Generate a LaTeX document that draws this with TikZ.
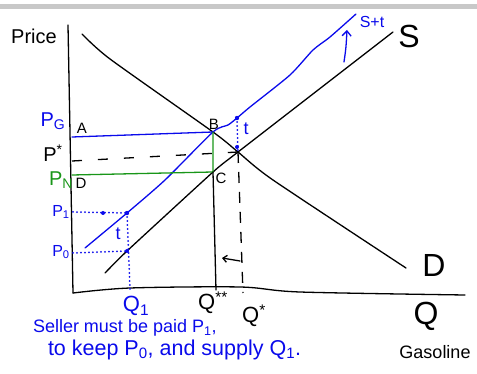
\documentclass[tikz,border=0pt]{standalone}
\usepackage{fontspec}
\setmainfont{Liberation Sans}
\usetikzlibrary{arrows.meta}
\definecolor{inkblue}{RGB}{10,10,235}
\definecolor{inkgreen}{RGB}{25,150,25}
\definecolor{bargrey}{RGB}{200,200,200}
\newcommand{\fsz}[1]{\fontsize{#1}{#1}\selectfont}
\begin{document}
\begin{tikzpicture}[x=1pt,y=-1pt,
  ink/.style={line width=1.3pt, line cap=round, line join=round},
  blk/.style={ink, black},
  bl/.style={ink, inkblue},
  gr/.style={ink, inkgreen},
  dotline/.style={inkblue, line width=2pt, line cap=round, dash pattern=on 0pt off 4pt},
  dsh/.style={line width=1.3pt, black, dash pattern=on 10pt off 16pt},
  dshv/.style={line width=1.3pt, black, dash pattern=on 11pt off 9pt},
  lbl/.style={inner sep=0pt, outer sep=0pt},
  bigdot/.style={inkblue},
]
\useasboundingbox (0,0) rectangle (477,374);
\fill[bargrey] (0,4) rectangle (477,9);

% key points
\coordinate (Ytop) at (68,25);
\coordinate (O) at (73,293);
\coordinate (Xend) at (465,295);
\coordinate (B) at (213,132);
\coordinate (E) at (238,152);
\coordinate (C) at (213,172);
\coordinate (Dt) at (82,34);
\coordinate (Db) at (406,268);
\coordinate (Sb) at (105,273);
\coordinate (Stop) at (393,32);
\coordinate (Tb) at (85,248);
\coordinate (Ttop) at (356,14);
\coordinate (Tt) at (237,118);
\coordinate (P1pt) at (127,213);
\coordinate (P0pt) at (127,251);
\coordinate (PGl) at (72,137);
\coordinate (PNl) at (72,175);
\coordinate (PSl) at (72,161);
\coordinate (P1l) at (73,212);
\coordinate (P0l) at (73,253);
\coordinate (Q1b) at (130,289);
\coordinate (Qssb) at (216,290);
\coordinate (Qsb) at (243,293);
\coordinate (Ar1) at (240,261);
\coordinate (Ar2) at (222,258);
\coordinate (Au1) at (344,62);
\coordinate (Au2) at (347,30);

% axes
\draw[blk] (Ytop) -- (O);
\draw[blk] plot[smooth, tension=0.5] coordinates {(O) (130,288) (240,287) (300,292) (Xend)};

% demand
\draw[blk] plot[smooth, tension=0.4] coordinates {(Dt) (110,59) (B) (E) (273,180) (Db)};
% supply
\draw[blk] plot[smooth, tension=0.3] coordinates {(Sb) (P0pt) (C) (E) (Stop)};
% supply + tax
\draw[bl] plot[smooth, tension=0.4] coordinates {(Tb) (P1pt) (165,180) (B) (228,125) (Tt) (250,107) (290,75) (313,50) (330,37) (Ttop)};

% price lines
\draw[bl] (PGl) -- (B);
\draw[gr] (PNl) -- (C) -- (B);
\draw[dsh] (PSl) -- (E);
\draw[dshv] (E) -- (Qsb);
\draw[blk] (C) -- (Qssb);
\draw[blk, -{Straight Barb[length=4pt,width=7pt]}] (Ar1) -- (Ar2);
\draw[bl, -{Straight Barb[length=5pt,width=9pt]}] (Au1) .. controls (346,48) .. (Au2);

% dotted tax lines
\draw[dotline] (P1l) -- (P1pt);
\draw[dotline] (P0l) -- (P0pt);
\draw[dotline] (P1pt) -- (Q1b);
\draw[dotline] (Tt) -- (E);
\fill[bigdot] (P1pt) circle (2.2pt);
\fill[bigdot] (103,213) circle (2pt);
\fill[bigdot] (P0pt) circle (2pt);
\fill[bigdot] (Tt) circle (2.2pt);
\fill[bigdot] (237,147) circle (2pt);

% labels
\node[lbl, font=\fsz{20}] (price) at (34,36) {Price};
\node[lbl, font=\fsz{32}] (slab) at (409,36) {S};
\node[lbl, font=\fsz{16}, text=inkblue] (stlab) at (372,22) {S+t};
\node[lbl, font=\fsz{32}] (dlab) at (434,265) {D};
\node[lbl, font=\fsz{32}] (qlab) at (426,316) {Q};
\node[lbl, font=\fsz{18}] (gas) at (435,352) {Gasoline};

\node[lbl, font=\fsz{20}, text=inkblue] (pg) at (53,121) {P\textsubscript{G}};
\node[lbl, font=\fsz{20}] (ps) at (53,153) {P\textsuperscript{*}};
\node[lbl, font=\fsz{20}, text=inkgreen] (pn) at (61,180) {P\textsubscript{N}};
\node[lbl, font=\fsz{16}, text=inkblue] (p1) at (61,212) {P\textsubscript{1}};
\node[lbl, font=\fsz{16}, text=inkblue] (p0) at (61,252) {P\textsubscript{0}};

\node[lbl, font=\fsz{15}] (alab) at (82,128) {A};
\node[lbl, font=\fsz{15}] (dptlab) at (81,183) {D};
\node[lbl, font=\fsz{15}] (blab) at (214,124) {B};
\node[lbl, font=\fsz{15}] (clab) at (221,178) {C};
\node[lbl, font=\fsz{18}, text=inkblue] (tlab1) at (246,129) {t};
\node[lbl, font=\fsz{18}, text=inkblue] (tlab2) at (118,234) {t};

\node[lbl, font=\fsz{22}, text=inkblue] (q1) at (136,306) {Q\textsubscript{1}};
\node[lbl, font=\fsz{22}] (qss) at (213,303) {Q\textsuperscript{**}};
\node[lbl, font=\fsz{22}] (qs) at (254,316) {Q\textsuperscript{*}};

\node[lbl, font=\fsz{18}, text=inkblue, anchor=west] (note1) at (33,328) {Seller must be paid P\textsubscript{1},};
\node[lbl, font=\fsz{21.5}, text=inkblue, anchor=west] (note2) at (48,350) {to keep P\textsubscript{0}, and supply Q\textsubscript{1}.};
\end{tikzpicture}
\end{document}
